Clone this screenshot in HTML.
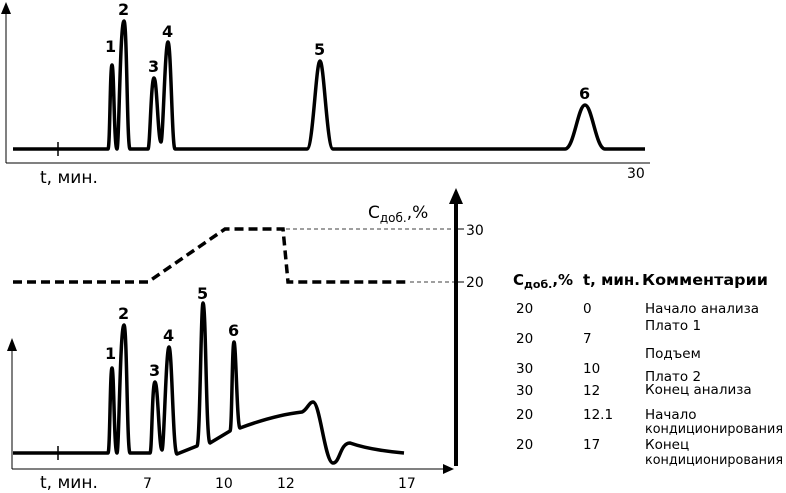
<!DOCTYPE html>
<html><head><meta charset="utf-8"><style>
body{margin:0;background:#fff}
svg{display:block}
text{font-family:"DejaVu Sans","Liberation Sans",sans-serif;fill:#000}
.b{font-weight:bold;font-size:16px}
.t{font-size:13.5px}
</style></head><body>
<svg width="786" height="493" viewBox="0 0 786 493">
<!-- top chart -->
<line x1="6" y1="163" x2="650" y2="163" stroke="#000" stroke-width="1"/>
<path d="M6,163 V4" stroke="#000" stroke-width="1"/>
<path d="M1,14 L6,2 L11,14 z"/>
<path d="M13,149 H108 C110,149 110,65 112,65 C114,65 114,149 117,149 C119,149 120,21 124,21 C127,21 127,149 130,149 H148 C150,149 151,78 154,78 C157,78 158,142 161,142 C163,142 165,42 168,42 C171,42 172,149 175,149 H307 C313,149 316,61 320,61 C324,61 327,149 333,149 H565 C574,149 578,105 585,105 C592,105 596,149 605,149 H645" fill="none" stroke="#000" stroke-width="3.5"/>
<path d="M58,142 V156" stroke="#000" stroke-width="1.5"/>
<text class="b" x="105" y="52">1</text><text class="b" x="118" y="15">2</text>
<text class="b" x="148" y="72">3</text><text class="b" x="162" y="37">4</text>
<text class="b" x="314" y="55">5</text><text class="b" x="579" y="99">6</text>
<text x="40" y="183" style="font-size:17px">t, мин.</text>
<text x="627" y="178" style="font-size:14px">30</text>
<!-- bottom chart -->
<line x1="12" y1="469" x2="445" y2="469" stroke="#000" stroke-width="1"/>
<path d="M443,464 L454,469 L443,474 z"/>
<path d="M12,469 V345" stroke="#000" stroke-width="1"/>
<path d="M7,351 L12,338 L17,351 z"/>
<path d="M13,453 H108 C110,453 110,368 112,368 C114,368 114,453 117,453 C119,453 120,325 124,325 C127,325 127,453 130,453 H150 C152,453 152,382 155,382 C158,382 159,450 162,450 C164,450 166,347 169,347 C172,347 173,454 177,454 L197,446 C200,446 201,303 203,303 C206,303 206,443 210,443 L230,431 C232,431 232,342 234,342 C236,342 237,428 240,428 Q275,415 302,412 C307,410 309,402 313,402 C320,402 325,463 333,463 C340,463 340,443 350,443 Q370,450 404,453" fill="none" stroke="#000" stroke-width="3.5"/>
<path d="M58,446 V460" stroke="#000" stroke-width="1.5"/>
<text class="b" x="105" y="359">1</text><text class="b" x="118" y="319">2</text>
<text class="b" x="149" y="376">3</text><text class="b" x="163" y="341">4</text>
<text class="b" x="197" y="299">5</text><text class="b" x="228" y="336">6</text>
<text x="40" y="488" style="font-size:17px">t, мин.</text>
<text x="143" y="488" style="font-size:14px">7</text>
<text x="215" y="488" style="font-size:14px">10</text>
<text x="277" y="488" style="font-size:14px">12</text>
<text x="398" y="488" style="font-size:14px">17</text>
<!-- gradient axis -->
<path d="M456,198 V466" stroke="#000" stroke-width="4"/>
<path d="M449,204 L456,188 L463,204 z"/>
<text x="368" y="218" style="font-size:17px">С<tspan style="font-size:12px" dy="4">доб.</tspan><tspan dy="-4">,%</tspan></text>
<path d="M13,282 H148 L225,229 H283 L288,282 H410" fill="none" stroke="#000" stroke-width="3.5" stroke-dasharray="9,5"/>
<path d="M286,229 H456 M410,282 H456" stroke="#000" stroke-width="0.8" stroke-dasharray="4,3"/>
<path d="M456,229 H464 M456,282 H464" stroke="#000" stroke-width="1"/>
<text x="466" y="235" style="font-size:14px">30</text>
<text x="466" y="287" style="font-size:14px">20</text>
<!-- table -->
<text x="513" y="285" style="font-size:15px;font-weight:bold">С<tspan style="font-size:11px" dy="3">доб.</tspan><tspan dy="-3">,%</tspan></text>
<text x="583" y="285" style="font-size:15px;font-weight:bold">t, мин.</text>
<text x="642" y="285" style="font-size:15px;font-weight:bold" textLength="126" lengthAdjust="spacingAndGlyphs">Комментарии</text>
<g class="t">
<text x="516" y="313">20</text><text x="583" y="313">0</text><text x="645" y="313">Начало анализа</text>
<text x="645" y="330">Плато 1</text>
<text x="516" y="343">20</text><text x="583" y="343">7</text>
<text x="645" y="358">Подъем</text>
<text x="516" y="373">30</text><text x="583" y="373">10</text>
<text x="645" y="381">Плато 2</text>
<text x="516" y="395">30</text><text x="583" y="395">12</text><text x="645" y="394">Конец анализа</text>
<text x="516" y="419">20</text><text x="583" y="419">12.1</text><text x="645" y="419">Начало</text>
<text x="645" y="433" textLength="138" lengthAdjust="spacingAndGlyphs">кондиционирования</text>
<text x="516" y="449">20</text><text x="583" y="449">17</text><text x="645" y="449">Конец</text>
<text x="645" y="464" textLength="138" lengthAdjust="spacingAndGlyphs">кондиционирования</text>
</g>
</svg>
</body></html>
